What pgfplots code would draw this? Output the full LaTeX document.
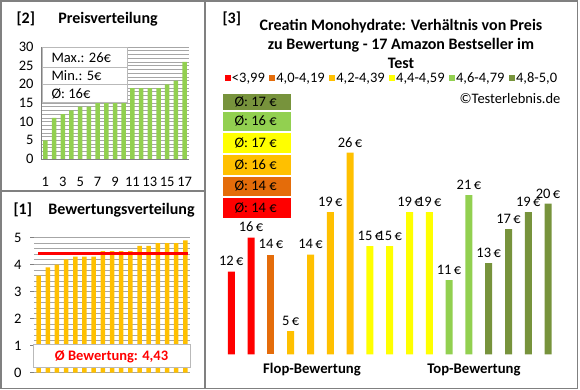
\documentclass[border=0pt]{standalone}
\usepackage{pgfplots}
\pgfplotsset{compat=1.18}
\usepackage{fontspec}
\setmainfont{Carlito}
\definecolor{cRed}{HTML}{FF0000}
\definecolor{cDOr}{HTML}{E46C0A}
\definecolor{cOr}{HTML}{FFC000}
\definecolor{cYe}{HTML}{FFFF00}
\definecolor{cLG}{HTML}{92D050}
\definecolor{cOl}{HTML}{77933C}
\definecolor{frame}{HTML}{808080}
\definecolor{gridc}{HTML}{A6A6A6}
\pgfplotsset{/pgf/number format/assume math mode=true}
\newcommand{\fs}{\fontsize{14.5}{15}\selectfont}
\newcommand{\ft}{\bfseries\fontsize{16}{19}\selectfont}
\begin{document}
\begin{tikzpicture}[x=1pt,y=1pt]
\useasboundingbox (0,0) rectangle (580,390);
% frames
\draw[frame, line width=1.3pt] (1,1.5) rectangle (577.5,389);
\draw[frame, line width=1.3pt] (205,1.5) -- (205,389);
\draw[frame, line width=1.3pt] (1,199) -- (205,199);

% ---------- Panel 2: Preisverteilung ----------
\node[font=\ft, anchor=west] at (13,371) {[2]};
\node[font=\ft] at (108,371) {Preisverteilung};
\begin{axis}[at={(41pt,231pt)}, anchor=south west, scale only axis,
  width=148pt, height=112pt,
  xmin=0.5, xmax=17.5, ymin=0, ymax=30,
  ybar, bar width=4.5pt,
  ytick={0,5,...,30}, xtick={1,3,...,17},
  minor y tick num=4,
  ymajorgrids, yminorgrids,
  major grid style={gridc, line width=0.6pt},
  minor grid style={gridc, line width=0.6pt},
  axis x line*=bottom, axis y line*=left,
  axis line style={frame, line width=0.8pt},
  tick style={draw=none},
  ticklabel style={font=\fs},
  xticklabel style={yshift=-10pt},
  yticklabel style={xshift=-4pt},
  clip=false]
\addplot[fill=cLG, draw=none] coordinates {
(1,5) (2,11) (3,12) (4,13) (5,14) (6,14) (7,15) (8,15) (9,15)
(10,15) (11,19) (12,19) (13,19) (14,19) (15,20) (16,21) (17,26)};
\end{axis}
\draw[gray!55, line width=1pt, fill=white] (42,342) rectangle (127,287);
\draw[gray!55, line width=1pt] (42,322.3) -- (127,322.3);
\draw[gray!55, line width=1pt] (42,305.7) -- (127,305.7);
\node[anchor=west, font=\fs] at (48,332.2) {Max.: 26€};
\node[anchor=west, font=\fs] at (48,314) {Min.: 5€};
\node[anchor=west, font=\fs] at (48,296.2) {Ø: 16€};

% ---------- Panel 1: Bewertungsverteilung ----------
\node[font=\ft, anchor=west] at (10,180) {[1]};
\node[font=\ft] at (121.5,180) {Bewertungsverteilung};
\begin{axis}[at={(34pt,17.3pt)}, anchor=south west, scale only axis,
  width=156pt, height=135pt,
  xmin=0.5, xmax=17.5, ymin=0, ymax=5,
  ybar, bar width=4.5pt,
  ytick={0,1,...,5}, xtick=\empty,
  minor y tick num=4,
  ymajorgrids, yminorgrids,
  major grid style={gridc, line width=0.6pt},
  minor grid style={gridc, line width=0.6pt},
  axis x line=none, axis y line*=left,
  axis line style={draw=none},
  ytick style={draw=frame, line width=0.8pt},
  tick align=outside, major tick length=4pt,
  minor tick length=0pt,
  ticklabel style={font=\fs},
  yticklabel style={xshift=-5pt},
  clip=false]
\addplot[fill=cOr, draw=none] coordinates {
(1,3.6) (2,3.9) (3,4.0) (4,4.2) (5,4.3) (6,4.3) (7,4.3) (8,4.5) (9,4.5)
(10,4.5) (11,4.5) (12,4.7) (13,4.7) (14,4.8) (15,4.8) (16,4.8) (17,4.9)};
\addplot[sharp plot, draw=red, line width=3pt, mark=none, forget plot] coordinates {(0.95,4.43) (17.3,4.43)};
\end{axis}
\draw[gray!55, line width=1pt, fill=white] (33,45) rectangle (190,22);
\node[text=red, font=\bfseries\fontsize{14.5}{15}\selectfont] at (111.5,33.5) {Ø Bewertung: 4,43};

% ---------- Panel 3 ----------
\node[font=\ft, anchor=west] at (219,371) {[3]};
\node[font=\ft, align=center] at (401,346.5)
  {Creatin Monohydrate: Verhältnis von Preis\\zu Bewertung - 17 Amazon Bestseller im\\Test};
\begin{axis}[at={(221.4pt,35.7pt)}, anchor=south west, scale only axis,
  width=336.6pt, height=254.3pt,
  xmin=0.5, xmax=17.5, ymin=2.26, ymax=32.21,
  ybar, bar width=7pt, bar shift=0pt,
  hide axis, clip=false,
  nodes near coords={\pgfmathprintnumber[fixed,precision=0]{\pgfplotspointmeta}\,€},
  every node near coord/.append style={font=\fs, text=black, yshift=2pt},
  legend columns=6,
  legend style={at={(0.01,1.086)}, anchor=west, draw=none, fill=none,
    font=\fs, inner sep=0pt,
    nodes={inner sep=1pt},
    /tikz/every even column/.append style={column sep=3.5pt}},
  legend image code/.code={\fill[#1] (0pt,-3pt) rectangle (6pt,3pt);},
  ]
\addplot[fill=cRed, draw=none] coordinates {(1,12) (2,16)};
\addplot[fill=cDOr, draw=none] coordinates {(3,14)};
\addplot[fill=cOr, draw=none] coordinates {(4,5) (5,14) (6,19) (7,26)};
\addplot[fill=cYe, draw=none] coordinates {(8,15) (9,15) (10,19) (11,19)};
\addplot[fill=cLG, draw=none] coordinates {(12,11) (13,21)};
\addplot[fill=cOl, draw=none] coordinates {(14,13) (15,17) (16,19) (17,20)};
\legend{{<3,99}, {4,0-4,19}, {4,2-4,39}, {4,4-4,59}, {4,6-4,79}, {4,8-5,0}}
\end{axis}
% average boxes
\fill[cOl] (223,295.5) rectangle (291,280);
\fill[cLG] (223,278) rectangle (291,259.3);
\fill[cYe] (223,256.7) rectangle (291,237.3);
\fill[cOr] (223,235) rectangle (291,215);
\fill[cDOr] (223,213) rectangle (291,194.3);
\fill[cRed] (223,192) rectangle (291,172.3);
\node[anchor=west, font=\fs] at (231,287.8) {Ø: 17 €};
\node[anchor=west, font=\fs] at (231,268.6) {Ø: 16 €};
\node[anchor=west, font=\fs] at (231,247) {Ø: 17 €};
\node[anchor=west, font=\fs] at (231,225) {Ø: 16 €};
\node[anchor=west, font=\fs] at (231,203.6) {Ø: 14 €};
\node[anchor=west, font=\fs] at (231,182.1) {Ø: 14 €};
\node[anchor=east, font=\fs] at (564,291.7) {©Testerlebnis.de};
\node[font=\bfseries\fontsize{14.7}{15}\selectfont] at (312,20) {Flop-Bewertung};
\node[font=\bfseries\fontsize{14.7}{15}\selectfont] at (474,20) {Top-Bewertung};
\end{tikzpicture}
\end{document}
